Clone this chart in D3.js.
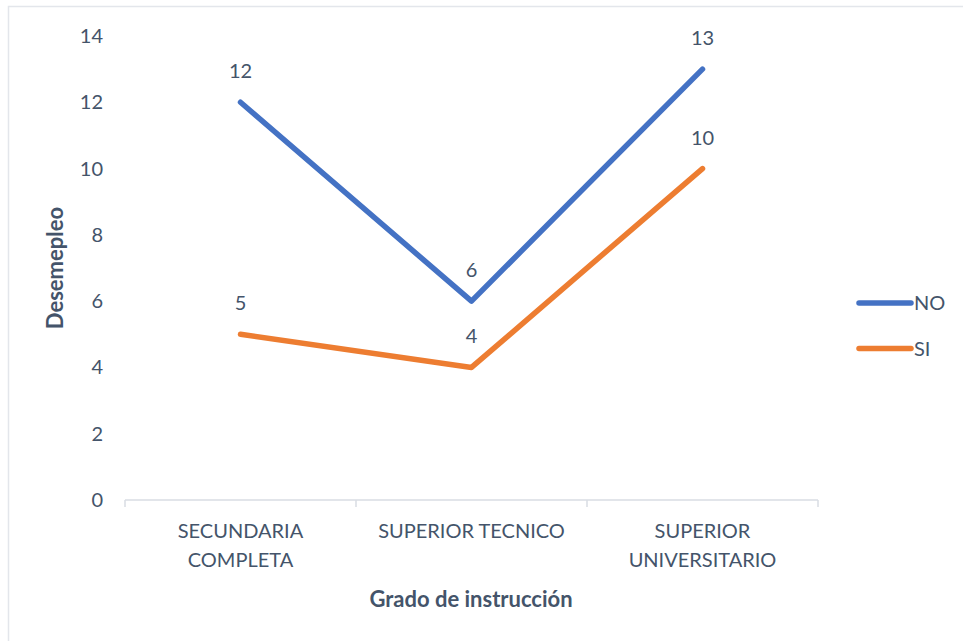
<!DOCTYPE html>
<html><head><meta charset="utf-8">
<script src="https://cdn.jsdelivr.net/npm/d3@7"></script>
<style>body{margin:0;background:#fff}svg{display:block}text{font-family:Lato,"Open Sans",sans-serif;fill:#44546A}</style>
</head><body>
<script>
const categories = ["SECUNDARIA COMPLETA", "SUPERIOR TECNICO", "SUPERIOR UNIVERSITARIO"];
const categoryLines = [["SECUNDARIA","COMPLETA"],["SUPERIOR TECNICO"],["SUPERIOR","UNIVERSITARIO"]];
const seriesNames = ["NO", "SI"];
const valuesNO = [12, 6, 13];
const valuesSI = [5, 4, 10];
const yTicks = [0, 2, 4, 6, 8, 10, 12, 14];
const colors = ["#4472C4", "#ED7D31"];

const W = 963, H = 641;
const FS = 20;
const svg = d3.select("body").append("svg").attr("width", W).attr("height", H);
svg.append("rect").attr("x", 8.5).attr("y", 6.5).attr("width", 1000).attr("height", 1000)
  .attr("fill", "#fff").attr("stroke", "#E3E6EB").attr("stroke-width", 1.5);

const x = d3.scaleBand().domain(categories).range([125, 818]);
const y = d3.scaleLinear().domain([0, 14]).range([500, 36]);

// x axis
const xa = svg.append("g").attr("transform", "translate(0,500)");
xa.append("line").attr("x1", 125).attr("x2", 818).attr("stroke", "#D9DDE3").attr("stroke-width", 1.5);
[0,1,2,3].forEach(i => {
  const px = i < 3 ? x(categories[i]) : x.range()[1];
  xa.append("line").attr("x1", px).attr("x2", px).attr("y1", 0).attr("y2", 7)
    .attr("stroke", "#D9DDE3").attr("stroke-width", 1.5);
});
categories.forEach((c, i) => {
  const t = xa.append("text").attr("text-anchor", "middle").attr("font-size", FS)
    .attr("x", x(c) + x.bandwidth()/2).attr("y", 38);
  categoryLines[i].forEach((ln, j) => t.append("tspan").attr("x", x(c) + x.bandwidth()/2).attr("dy", j ? 29 : 0).text(ln));
});

// y tick labels
svg.selectAll(".yt").data(yTicks).enter().append("text")
  .attr("x", 103).attr("y", d => y(d)).attr("dy", "0.35em").attr("text-anchor", "end")
  .attr("font-size", FS).text(d => d);

// axis titles
svg.append("text").attr("transform", "translate(63,268) rotate(-90)").attr("text-anchor", "middle")
  .attr("font-size", 22).attr("font-weight", "bold").text("Desemepleo");
svg.append("text").attr("x", 471).attr("y", 607).attr("text-anchor", "middle")
  .attr("font-size", 22).attr("font-weight", "bold").text("Grado de instrucción");

// lines
const series = [valuesNO, valuesSI];
const line = d3.line().x((d, i) => x(categories[i]) + x.bandwidth()/2).y(d => y(d));
series.forEach((vals, s) => {
  svg.append("path").datum(vals).attr("d", line).attr("fill", "none")
    .attr("stroke", colors[s]).attr("stroke-width", 5.5).attr("stroke-linejoin", "round").attr("stroke-linecap", "round");
});
series.forEach((vals, s) => {
  svg.selectAll(".lbl" + s).data(vals).enter().append("text")
    .attr("x", (d, i) => x(categories[i]) + x.bandwidth()/2).attr("y", d => y(d) - 31)
    .attr("dy", "0.35em").attr("text-anchor", "middle").attr("font-size", FS).text(d => d);
});

// legend
seriesNames.forEach((n, s) => {
  const ly = 303 + s * 45.5;
  svg.append("line").attr("x1", 859).attr("x2", 911).attr("y1", ly).attr("y2", ly)
    .attr("stroke", colors[s]).attr("stroke-width", 5.5).attr("stroke-linecap", "round");
  svg.append("text").attr("x", 914).attr("y", ly).attr("dy", "0.35em").attr("font-size", FS).text(n);
});
</script>
</body></html>
